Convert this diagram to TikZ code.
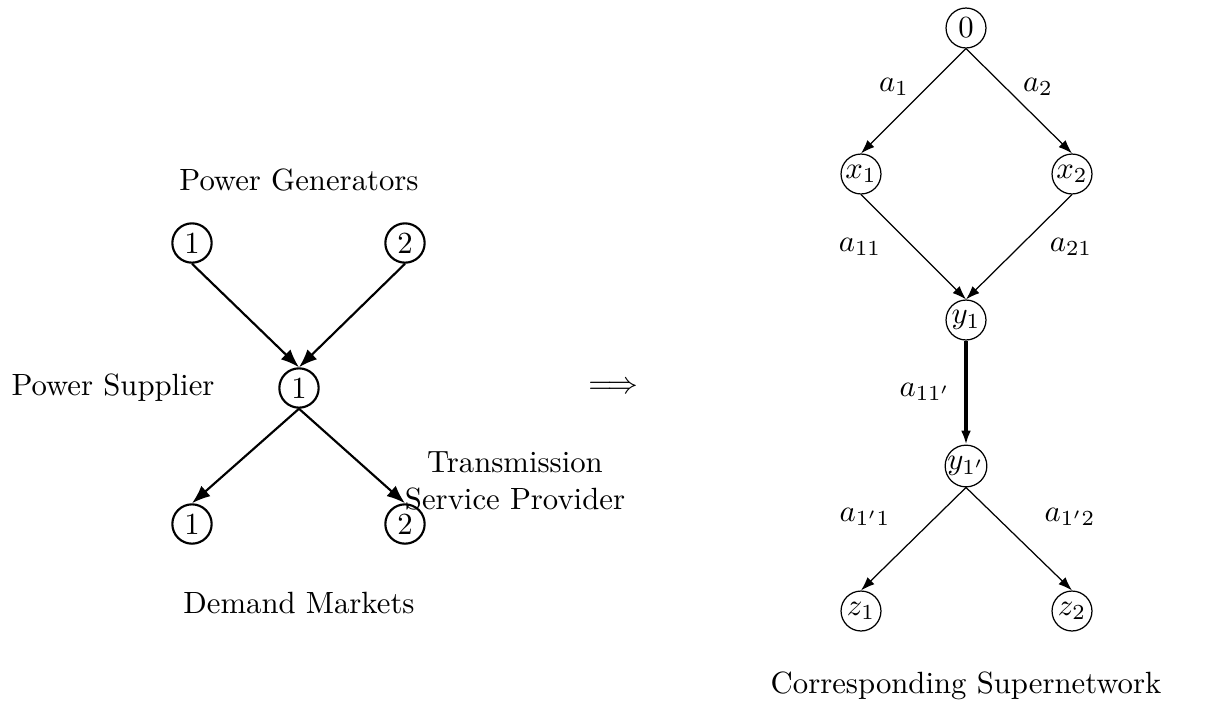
\documentclass[tikz,border=0pt]{standalone}
\usetikzlibrary{arrows.meta}
\begin{document}
\begin{tikzpicture}[x=0.3255pt,y=-0.3255pt,
  lnode/.style={circle,draw,line width=0.7pt,minimum size=12.8pt,inner sep=0pt},
  rnode/.style={circle,draw,line width=0.4pt,minimum size=13pt,inner sep=0pt},
  ledge/.style={line width=0.7pt,-{Latex[length=6pt,width=4.5pt]}},
  redge/.style={line width=0.4pt,-{Latex[length=4.5pt,width=3.2pt]}},
  tedge/.style={line width=1.1pt,-{Latex[length=4.5pt,width=3.2pt]}},
  lbl/.style={inner sep=0pt}]
\useasboundingbox (0,0) rectangle (1214,709);
% left network
\node[lnode] (g1) at (192,243) {1};
\node[lnode] (g2) at (405,243) {2};
\node[lnode] (s) at (299,388) {1};
\node[lnode] (d1) at (192,524) {1};
\node[lnode] (d2) at (405,524) {2};
\draw[ledge] (g1.south) -- (s.north);
\draw[ledge] (g2.south) -- (s.north);
\draw[ledge] (s.south) -- (d1.north);
\draw[ledge] (s.south) -- (d2.north);
\node[lbl] (tg) at (299,180) {Power Generators};
\node[lbl] (ts) at (113,388) {Power Supplier};
\node[lbl,align=center] (tt) at (515,481) {Transmission\\Service Provider};
\node[lbl] (td) at (299,603) {Demand Markets};
\node[lbl] (arr) at (613,388) {$\Longrightarrow$};
% right supernetwork
\node[rnode] (n0) at (966,28) {$0$};
\node[rnode] (x1) at (861,174) {$x_1$};
\node[rnode] (x2) at (1072,174) {$x_2$};
\node[rnode] (y1) at (966,320) {$y_1$};
\node[rnode] (y1p) at (966,466) {$y_{1'}$};
\node[rnode] (z1) at (861,611) {$z_1$};
\node[rnode] (z2) at (1072,611) {$z_2$};
\draw[redge] (n0.south) -- (x1.north);
\draw[redge] (n0.south) -- (x2.north);
\draw[redge] (x1.south) -- (y1.north);
\draw[redge] (x2.south) -- (y1.north);
\draw[tedge] (y1.south) -- (y1p.north);
\draw[redge] (y1p.south) -- (z1.north);
\draw[redge] (y1p.south) -- (z2.north);
\node[lbl] (la1) at (894,87) {$a_1$};
\node[lbl] (la2) at (1038,87) {$a_2$};
\node[lbl] (la11) at (860,247) {$a_{11}$};
\node[lbl] (la21) at (1071,247) {$a_{21}$};
\node[lbl] (la11p) at (925,392) {$a_{11'}$};
\node[lbl] (la1p1) at (865,517) {$a_{1'1}$};
\node[lbl] (la1p2) at (1070,517) {$a_{1'2}$};
\node[lbl] (tc) at (966,686) {Corresponding Supernetwork};
\end{tikzpicture}
\end{document}
